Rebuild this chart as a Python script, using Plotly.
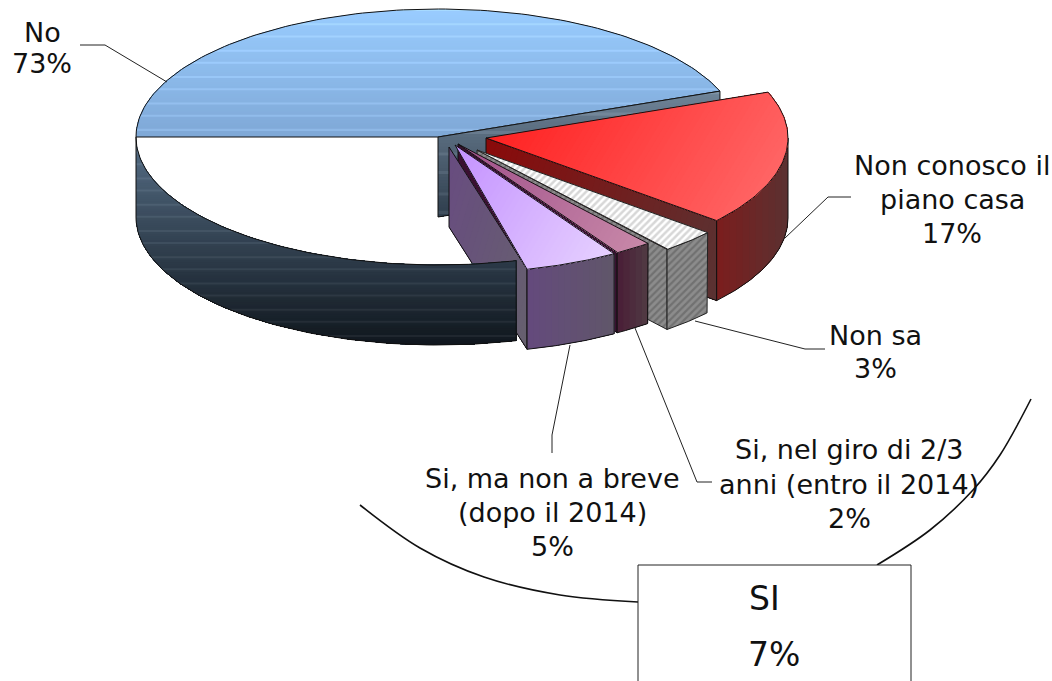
import math
import plotly.graph_objects as go

# ---- data ----
labels = ["No", "Si, ma non a breve (dopo il 2014)", "Si, nel giro di 2/3 anni (entro il 2014)",
          "Non sa", "Non conosco il piano casa"]
values = [73, 5, 2, 3, 17]
label_lines = [["No", "73%"], ["Si, ma non a breve", "(dopo il 2014)", "5%"],
               ["Si, nel giro di 2/3", "anni (entro il 2014)", "2%"],
               ["Non sa", "3%"], ["Non conosco il", "piano casa", "17%"]]
group_lines = ["SI", "7%"]

# ---- layout of the pie ----
W, H = 1052, 681
CX, CY, RX, RY, DEPTH = 438, 137, 302, 128, 80
START = 21  # degrees, counter-clockwise on screen
SIDE_EXTRA = 1.2
EXPLODE = [(0, 0), (17, 8), (20, 7), (39, 13), (48, 1)]
TXT = dict(family="DejaVu Sans", color="#111111")
FS = 27
label_pos = [[(42, 32), (42, 63)], [(552, 478), (552, 512), (552, 546)],
             [(849, 449), (849, 484), (849, 518)], [(875, 335), (875, 368)],
             [(952, 165), (952, 199), (952, 233)]]
leaders = [[(80, 45), (105, 45), (167, 82)], [(570, 345), (552, 435), (552, 453)],
           [(635, 328), (697, 482), (712, 482)], [(695, 321), (805, 349), (825, 349)],
           [(851, 197), (828, 197), (785, 238)]]
arc_left = [(360, 505), (420, 548), (484, 577), (560, 595), (638, 602)]
arc_right = [(877, 565), (930, 530), (973, 490), (1000, 455), (1031, 399)]


def hex2rgb(h):
    return tuple(int(h[i:i + 2], 16) for i in (1, 3, 5))


def mix(a, b, f):
    a, b = hex2rgb(a), hex2rgb(b)
    return tuple(round(a[i] + (b[i] - a[i]) * f) for i in range(3))


def clip(poly, d, s):
    out = []
    for i, p in enumerate(poly):
        q = poly[(i + 1) % len(poly)]
        a = p[0] * d[0] + p[1] * d[1] - s
        b = q[0] * d[0] + q[1] * d[1] - s
        if a >= 0:
            out.append(p)
        if (a >= 0) != (b >= 0):
            f = a / (a - b)
            out.append((p[0] + (q[0] - p[0]) * f, p[1] + (q[1] - p[1]) * f))
    return out


fig = go.Figure()


def add_poly(poly, color=None, line=None, lw=1, opacity=None, pattern=None):
    xs = [p[0] for p in poly] + [poly[0][0]]
    ys = [p[1] for p in poly] + [poly[0][1]]
    kw = dict(x=xs, y=ys, mode="lines", hoverinfo="skip", showlegend=False,
              line=dict(color=line or "rgba(0,0,0,0)", width=lw if line else 0))
    if color or pattern:
        kw["fill"] = "toself"
        kw["fillcolor"] = color or "rgba(0,0,0,0)"
    if pattern:
        kw["fillpattern"] = pattern
    if opacity is not None:
        kw["opacity"] = opacity
    fig.add_trace(go.Scatter(**kw))


def gradient(poly, d, c0, c1, step=3, stripes=False, opacity=None, outline=True):
    pr = [p[0] * d[0] + p[1] * d[1] for p in poly]
    lo, hi = min(pr), max(pr)
    n = max(2, int((hi - lo) / step))
    for i in range(n):
        rgb = mix(c0, c1, i / (n - 1))
        if stripes and (i * i * 7 + i * 3) % 13 in (0, 5):
            rgb = tuple(min(255, v + 14) for v in rgb)
        part = clip(poly, d, lo + (hi - lo) * i / n)
        if len(part) >= 3:
            add_poly(part, "rgb(%d,%d,%d)" % rgb, opacity=opacity)
    if outline:
        add_poly(poly, None, "#111111", 1)


def rim(t0, t1, ox=0, oy=0, dy=0, n=60):
    return [(CX + ox + RX * math.cos(math.radians(t0 + (t1 - t0) * i / n)),
             CY + oy + dy - RY * math.sin(math.radians(t0 + (t1 - t0) * i / n))) for i in range(n + 1)]


# angle range of each slice, from the values
total = sum(values)
angles = []
a = START
for v in values:
    angles.append((a, a + 360 * v / total))
    a += 360 * v / total

# --- "No": blue top only above the centre line, white below it
t0, t1 = angles[0]
top = rim(t0, 180, n=120)
gradient(top + [(CX, CY)], (0, 1), "#99ccff", "#7fa8d6", step=2, stripes=True)
# its cut wall towards the exploded slices
gradient([(CX, CY), rim(t0, t0)[0], rim(t0, t0, dy=DEPTH)[0], (CX, CY + DEPTH)], (0, 1),
         "#6f8498", "#2f3e4d", step=3, stripes=True)

# --- exploded slices, back to front (except the nearest)
styles = {
    4: dict(top=("#ff2222", "#ff6464", (1, 0.6)), cut=("#8a0a0a", "#5a3232", (1, 0.3)),
            out=("#7a1e1e", "#5c3030", (1, 0))),
    3: dict(pat=True),
    2: dict(top=("#a0508a", "#c888a8", (1, 0.6)), cut=("#3a1030", "#3a1030", (1, 0)),
            out=("#4a2038", "#503842", (1, 0))),
    1: dict(top=("#c492ff", "#e6d0ff", (1, 0.6)), cut=("#4a3a60", "#6a6070", (1, 0)),
            out=("#644a7c", "#60566a", (1, 0))),
}


def draw_slice(idx):
    t0, t1 = angles[idx]
    ox, oy = EXPLODE[idx]
    apex = (CX + ox, CY + oy)
    st = styles[idx]
    cut = [apex, rim(t0, t0, ox, oy)[0], rim(t0, t0, ox, oy, DEPTH)[0], (apex[0], apex[1] + DEPTH)]
    t_out = min(t1, 360)
    outer = rim(t0, t_out, ox, oy) + rim(t0, t_out, ox, oy, DEPTH)[::-1]
    topf = [apex] + rim(t0, t1, ox, oy)
    if st.get("pat"):
        side_pat = dict(shape="/", bgcolor="#8c8c8c", fgcolor="#555555", size=5, solidity=0.45)
        add_poly(cut, "#777777", "#222222", 1, pattern=side_pat)
        add_poly(outer, "#777777", "#222222", 1, pattern=side_pat)
        add_poly(topf, "#ffffff", "#222222", 1,
                 pattern=dict(shape="/", bgcolor="#ffffff", fgcolor="#b0b0b0", size=5, solidity=0.5))
    else:
        if idx != 1:
            gradient(cut, st["cut"][2], st["cut"][0], st["cut"][1], step=6)
        gradient(outer, st["out"][2], st["out"][0], st["out"][1], step=6)
        gradient(topf, st["top"][2], st["top"][0], st["top"][1], step=6)


for idx in (4, 3, 2):
    draw_slice(idx)

# purple left wall, seen faintly through the dark side of "No"
ox, oy = EXPLODE[1]
p_rim = rim(angles[1][0], angles[1][0], ox, oy)[0]
pw = [(CX + ox - 6, CY + oy + 2), p_rim, (p_rim[0], p_rim[1] + DEPTH), (CX + ox - 6, CY + oy + 2 + DEPTH)]
gradient(pw, (1, 0.3), "#684c80", "#66606e", step=6)

# outer dark side of "No"
side_end = angles[0][1] + SIDE_EXTRA
side = rim(180, side_end, n=80) + rim(180, side_end, dy=DEPTH, n=80)[::-1]
gradient(side, (0, 1), "#566e86", "#10171e", step=2, stripes=True, opacity=0.93, outline=False)
add_poly(side, None, "#111111", 1)

draw_slice(1)

# --- leader lines and group bracket
for pts in leaders:
    fig.add_trace(go.Scatter(x=[p[0] for p in pts], y=[p[1] for p in pts], mode="lines",
                             line=dict(color="#222222", width=1), hoverinfo="skip", showlegend=False))
for pts in (arc_left, arc_right):
    fig.add_trace(go.Scatter(x=[p[0] for p in pts], y=[p[1] for p in pts], mode="lines",
                             line=dict(color="#111111", width=1.6, shape="spline"),
                             hoverinfo="skip", showlegend=False))

annotations = []
for lines, pos in zip(label_lines, label_pos):
    for s, (x, y) in zip(lines, pos):
        annotations.append(dict(x=x, y=y, text=s, showarrow=False, xanchor="center", yanchor="middle",
                                font=dict(size=FS, **TXT)))
annotations.append(dict(x=764, y=598, text=group_lines[0], showarrow=False, font=dict(size=33, **TXT)))
annotations.append(dict(x=774, y=654, text=group_lines[1], showarrow=False, font=dict(size=33, **TXT)))

fig.update_layout(
    width=W, height=H, margin=dict(l=0, r=0, t=0, b=0), paper_bgcolor="white", plot_bgcolor="white",
    xaxis=dict(range=[0, W], visible=False, fixedrange=True),
    yaxis=dict(range=[H, 0], visible=False, fixedrange=True),
    showlegend=False, annotations=annotations,
    shapes=[dict(type="rect", x0=638, x1=911, y0=565, y1=700, xref="x", yref="y",
                 line=dict(color="#222222", width=1), fillcolor="white", layer="above")],
)
fig.write_html("out.html", config=dict(displayModeBar=False),
               post_script="document.body.style.margin='0';document.body.style.overflow='hidden';")
